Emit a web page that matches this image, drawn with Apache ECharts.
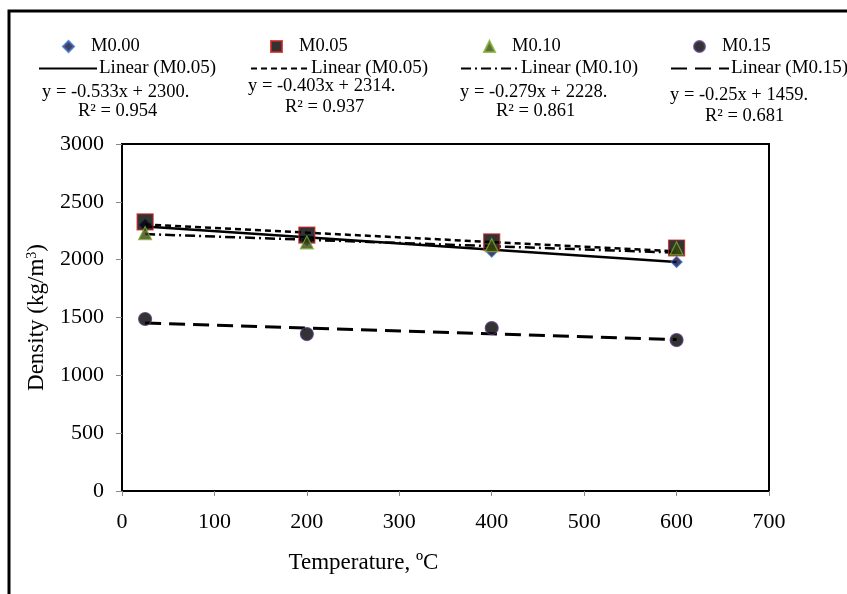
<!DOCTYPE html>
<html>
<head>
<meta charset="utf-8">
<script src="https://cdn.jsdelivr.net/npm/echarts@6/dist/echarts.min.js"></script>
<style>
html, body { margin: 0; padding: 0; background: #fff; }
#chart { width: 847px; height: 594px; }
</style>
</head>
<body>
<div id="chart"></div>
<script>
const temps = [25, 200, 400, 600]
const seriesNames = ['M0.00', 'M0.05', 'M0.10', 'M0.15']
const m000 = [2300, 2170, 2070, 1980]
const m005 = [2326, 2213, 2153, 2101]
const m010 = [2230, 2150, 2125, 2098]
const m015 = [1487, 1357, 1409, 1305]
const trendNames = ['Linear (M0.05) ', 'Linear (M0.05)', 'Linear (M0.10)', 'Linear (M0.15)']
const slopes = [-0.533, -0.403, -0.279, -0.25]
const intercepts = [2300, 2314, 2228, 1459]
const equations = ['y = -0.533x + 2300.', 'y = -0.403x + 2314.', 'y = -0.279x + 2228.', 'y = -0.25x + 1459.']
const r2 = ['R² = 0.954', 'R² = 0.937', 'R² = 0.861', 'R² = 0.681']
const yTicks = [0, 500, 1000, 1500, 2000, 2500, 3000]

const font = 'Liberation Serif'
const chart = echarts.init(document.getElementById('chart'))

const values = [m000, m005, m010, m015]
const symbols = ['diamond', 'rect', 'triangle', 'circle']
const sizes = [11, 16, 13, 13]
const fills = ['#101040', '#000', '#3b4a10', '#000']
const borders = ['#3a6fc0', '#d02020', '#80b030', '#5a3a80']
const dashes = ['solid', [6, 4], [10, 4, 2, 4], [16, 8]]

const scatter = values.map((v, i) => ({
    name: seriesNames[i],
    type: 'scatter',
    symbol: symbols[i],
    symbolSize: sizes[i],
    itemStyle: { color: fills[i], borderColor: borders[i], borderWidth: 1.2 },
    z: 3,
    data: temps.map((t, j) => [t, v[j]])
}))

const trends = slopes.map((s, i) => ({
    name: trendNames[i],
    type: 'line',
    symbol: 'none',
    itemStyle: { color: '#000' },
    lineStyle: { color: '#000', width: i === 3 ? 3 : 2.5, type: dashes[i] },
    z: 2,
    data: [temps[0], temps[temps.length - 1]].map(t => [t, s * t + intercepts[i]])
}))

const markerPos = [[57, 32], [265, 32], [478, 32], [688, 32]]
const linePos = [[33, 54], [245, 54], [455, 54], [665, 54]]
const legends = []
seriesNames.forEach((n, i) => {
    legends.push({
        left: markerPos[i][0], top: markerPos[i][1], data: [n],
        itemWidth: 11, itemHeight: 11, itemGap: 0,
        textStyle: { fontFamily: font, fontSize: 18.5, color: '#000', padding: [0, 0, 0, 12] }
    })
    legends.push({
        left: linePos[i][0], top: linePos[i][1], data: [trendNames[i]],
        itemWidth: 58, itemHeight: 14, itemGap: 0,
        itemStyle: { opacity: 0 },
        textStyle: { fontFamily: font, fontSize: 19, color: '#000', padding: [0, 0, 0, -3] }
    })
})

const eqPos = [[42, 83, 78, 102], [248, 77, 285, 98], [460, 83, 496, 102], [670, 86, 705, 107]]
const graphics = [{
    type: 'rect', shape: { x: 9, y: 11, width: 860, height: 600 },
    style: { fill: 'none', stroke: '#000', lineWidth: 3 }, silent: true
}]
equations.forEach((e, i) => {
    graphics.push({ type: 'text', left: eqPos[i][0], top: eqPos[i][1],
        style: { text: e, font: '18.5px "' + font + '"', fill: '#000' } })
    graphics.push({ type: 'text', left: eqPos[i][2], top: eqPos[i][3],
        style: { text: r2[i], font: '18.5px "' + font + '"', fill: '#000' } })
})

chart.setOption({
    animation: false,
    backgroundColor: '#fff',
    legend: legends,
    graphic: graphics,
    grid: { left: 122, top: 144, right: 78, bottom: 103, show: true, borderColor: '#000', borderWidth: 2 },
    xAxis: {
        type: 'value', min: 0, max: 700, interval: 100,
        name: 'Temperature, ºC', nameLocation: 'middle', nameGap: 60,
        nameTextStyle: { fontFamily: font, fontSize: 23, color: '#000', padding: [0, 164, 0, 0] },
        axisLine: { lineStyle: { color: '#000', width: 2 } },
        axisTick: { show: true, length: 5, lineStyle: { color: '#888' } },
        axisLabel: { fontFamily: font, fontSize: 22, color: '#000', margin: 20 },
        splitLine: { show: false }
    },
    yAxis: {
        type: 'value', min: yTicks[0], max: yTicks[yTicks.length - 1], interval: 500,
        name: 'Density (kg/m{sup|3})', nameLocation: 'middle', nameGap: 73,
        nameTextStyle: { fontFamily: font, fontSize: 23, color: '#000',
            rich: { sup: { fontFamily: font, fontSize: 14, verticalAlign: 'top', padding: [0, 0, 10, 0] } } },
        axisLine: { show: true, lineStyle: { color: '#000', width: 2 } },
        axisTick: { show: true, length: 6, lineStyle: { color: '#888' } },
        axisLabel: { fontFamily: font, fontSize: 22, color: '#000', margin: 18, formatter: v => String(v) },
        splitLine: { show: false }
    },
    series: [...trends, ...scatter]
})
</script>
</body>
</html>
